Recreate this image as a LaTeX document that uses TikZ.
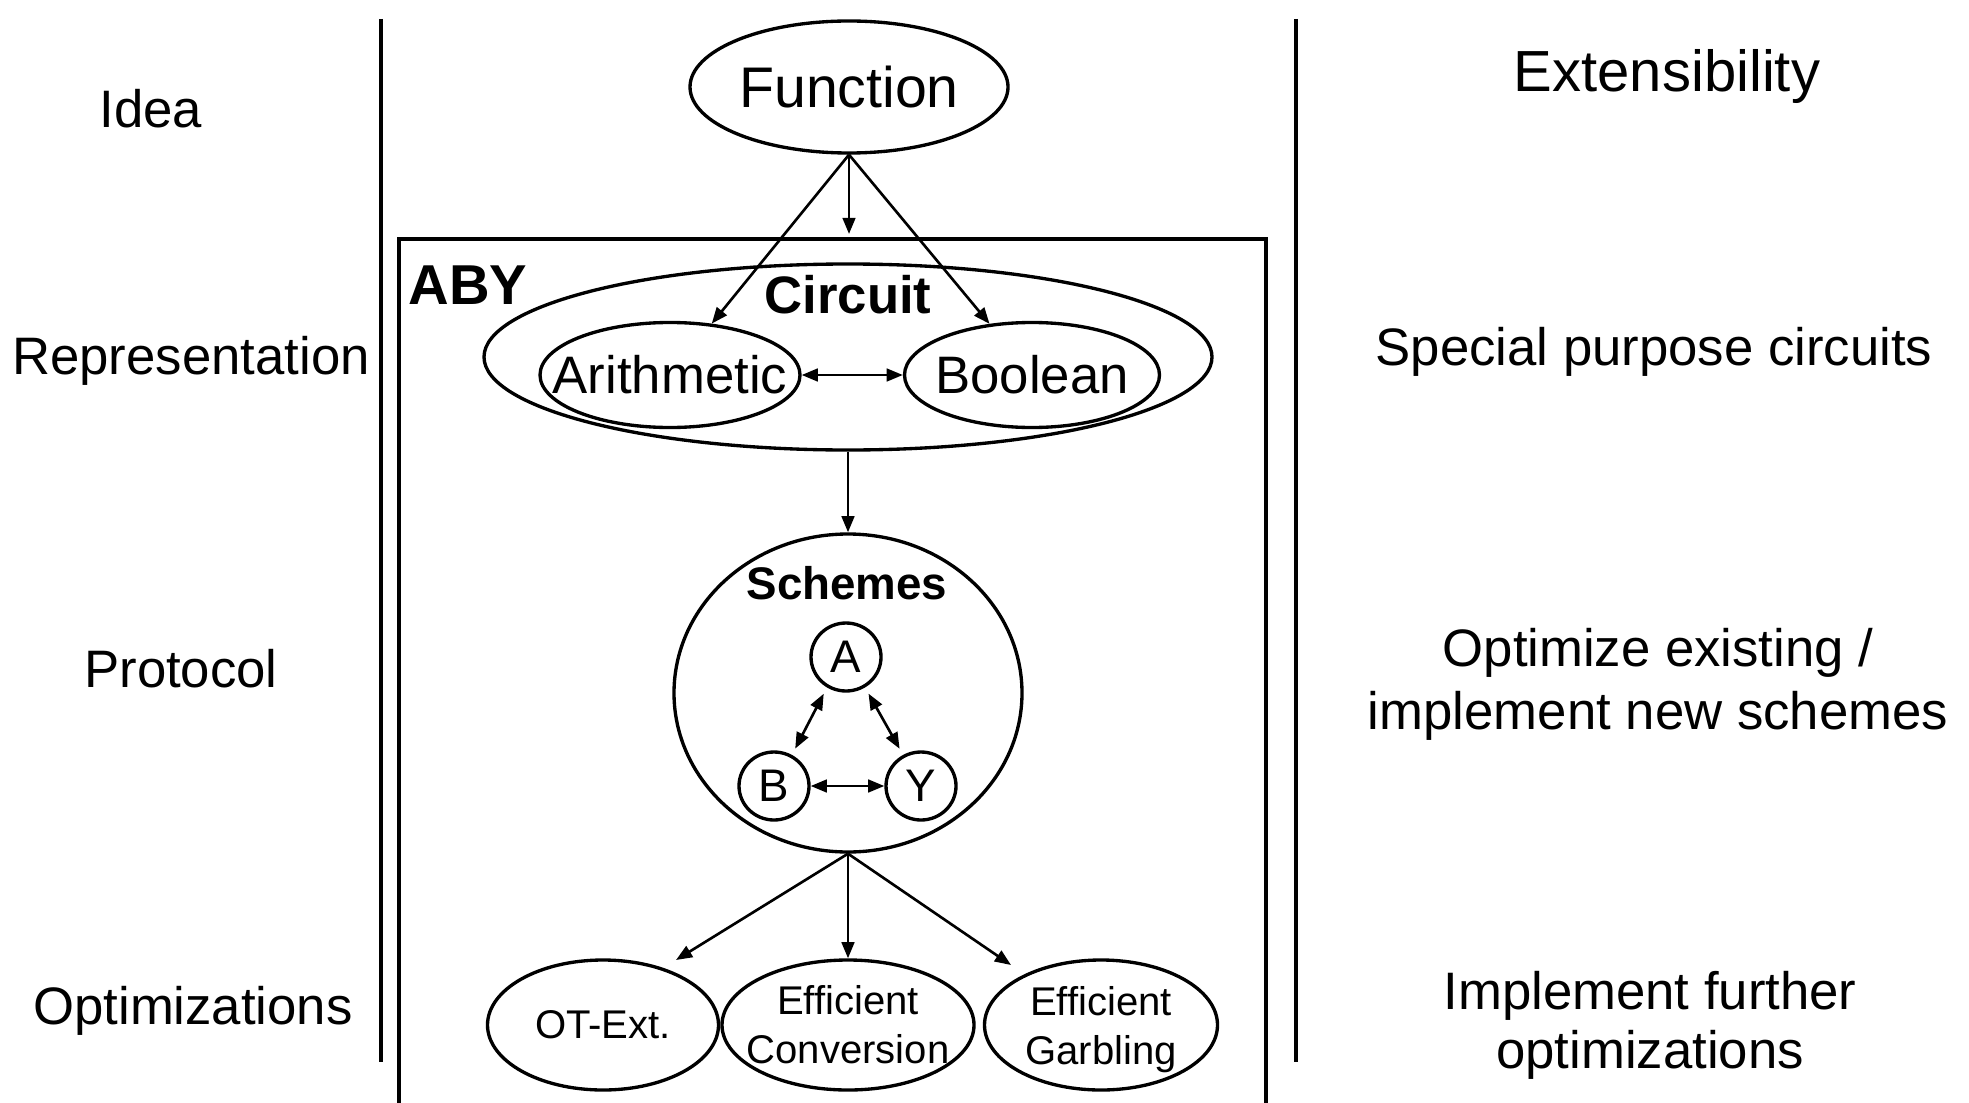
\documentclass[tikz,border=0pt]{standalone}
\usepackage{fontspec}
\setmainfont{Liberation Sans}
\usepackage{tikz}
\usetikzlibrary{shapes.geometric,arrows.meta,positioning}
\tikzset{
  abyoval/.style={ellipse,draw,line width=0.95pt,inner sep=0pt},
  abyletter/.style={abyoval,minimum width=7mm,minimum height=6.8mm,font=\fontsize{13}{15}\selectfont},
  abyarc/.style={->,line width=0.75pt},
  abyswap/.style={<->,line width=0.75pt},
  abyrule/.style={line width=1.3pt},
  sidelab/.style={align=center,font=\fontsize{15}{17.9}\selectfont},
  ovallab/.style={align=center,font=\fontsize{15}{18}\selectfont},
  optlab/.style={align=center,font=\fontsize{11.4}{14}\selectfont},
  headlab/.style={font=\bfseries\fontsize{15}{18}\selectfont}
}

\begin{document}
\begin{tikzpicture}[>={Triangle[length=4.6pt,width=3.6pt]}]
  \useasboundingbox (0,0) rectangle (19.69,-11.03);
  \draw[abyrule] (3.81,-0.19) -- (3.81,-10.62);
  \draw[abyrule] (12.96,-0.19) -- (12.96,-10.62);
  \draw[line width=1pt] (3.99,-11.03) |- (12.66,-2.39) -- (12.66,-11.03);
  \node[sidelab] (idea) at (1.51,-1.09) {Idea};
  \node[sidelab] (repr) at (1.91,-3.61) {Representation};
  \node[sidelab] (proto) at (1.81,-6.69) {Protocol};
  \node[sidelab] (optim) at (1.93,-10.11) {Optimizations};
  \node[sidelab,font=\fontsize{16.5}{20}\selectfont] (ext) at (16.67,-0.77) {Extensibility};
  \node[sidelab] (spc) at (16.54,-3.52) {Special purpose circuits};
  \node[sidelab] (newsch) at (16.58,-6.84) {Optimize existing /\\implement new schemes};
  \node[sidelab,font=\fontsize{15}{16.8}\selectfont] (impl) at (16.50,-10.25) {Implement further\\optimizations};
  \node[abyoval,minimum width=3.18cm,minimum height=1.32cm,font=\fontsize{16.3}{19}\selectfont] (func) at (8.49,-0.87) {Function};
  \node[headlab,font=\bfseries\fontsize{16}{19}\selectfont] (aby) at (4.68,-2.85) {ABY};
  \node[abyoval,minimum width=7.28cm,minimum height=1.86cm] (circuit) at (8.48,-3.57) {};
  \node[headlab] (circlab) at (8.48,-2.95) {Circuit};
  \node[abyoval,minimum width=2.60cm,minimum height=1.05cm,label={[ovallab]center:Arithmetic}] (arith) at (6.70,-3.75) {};
  \node[abyoval,minimum width=2.55cm,minimum height=1.05cm,label={[ovallab]center:Boolean}] (bool) at (10.32,-3.75) {};
  \node[abyoval,minimum width=3.48cm,minimum height=3.18cm] (schemes) at (8.48,-6.93) {};
  \node[headlab,font=\bfseries\fontsize{13}{16}\selectfont] (schlab) at (8.47,-5.83) {Schemes};
  \node[abyletter] (a) at (8.46,-6.57) {A};
  \node[abyletter] (b) at (7.74,-7.86) {B};
  \node[abyletter] (y) at (9.21,-7.86) {Y};
  \node[abyoval,minimum width=2.31cm,minimum height=1.30cm,label={[optlab]center:OT-Ext.}] (otext) at (6.03,-10.25) {};
  \node[abyoval,minimum width=2.52cm,minimum height=1.30cm,label={[optlab]center:Efficient\\Conversion}] (conv) at (8.48,-10.25) {};
  \node[abyoval,minimum width=2.33cm,minimum height=1.30cm,label={[optlab,yshift=-1.4pt]center:Efficient\\Garbling}] (garb) at (11.01,-10.25) {};
  \coordinate (abytop) at (8.49,-2.34);
  \coordinate (otin) at (6.76,-9.60);
  \coordinate (garbin) at (10.11,-9.65);
  \draw[abyarc] (func.south) -- (arith);
  \draw[abyarc] (func.south) -- (abytop);
  \draw[abyarc] (func.south) -- (bool);
  \draw[abyswap] (arith) -- (bool);
  \draw[abyarc] (circuit.south) -- (schemes.north);
  \draw[abyswap,shorten <=2pt,shorten >=2pt] (a.238) -- (b.60);
  \draw[abyswap,shorten <=2pt,shorten >=2pt] (a.302) -- (y.120);
  \draw[abyswap] (b) -- (y);
  \draw[abyarc] (schemes.south) -- (otin);
  \draw[abyarc] (schemes.south) -- (conv.north);
  \draw[abyarc] (schemes.south) -- (garbin);
\end{tikzpicture}
\end{document}
